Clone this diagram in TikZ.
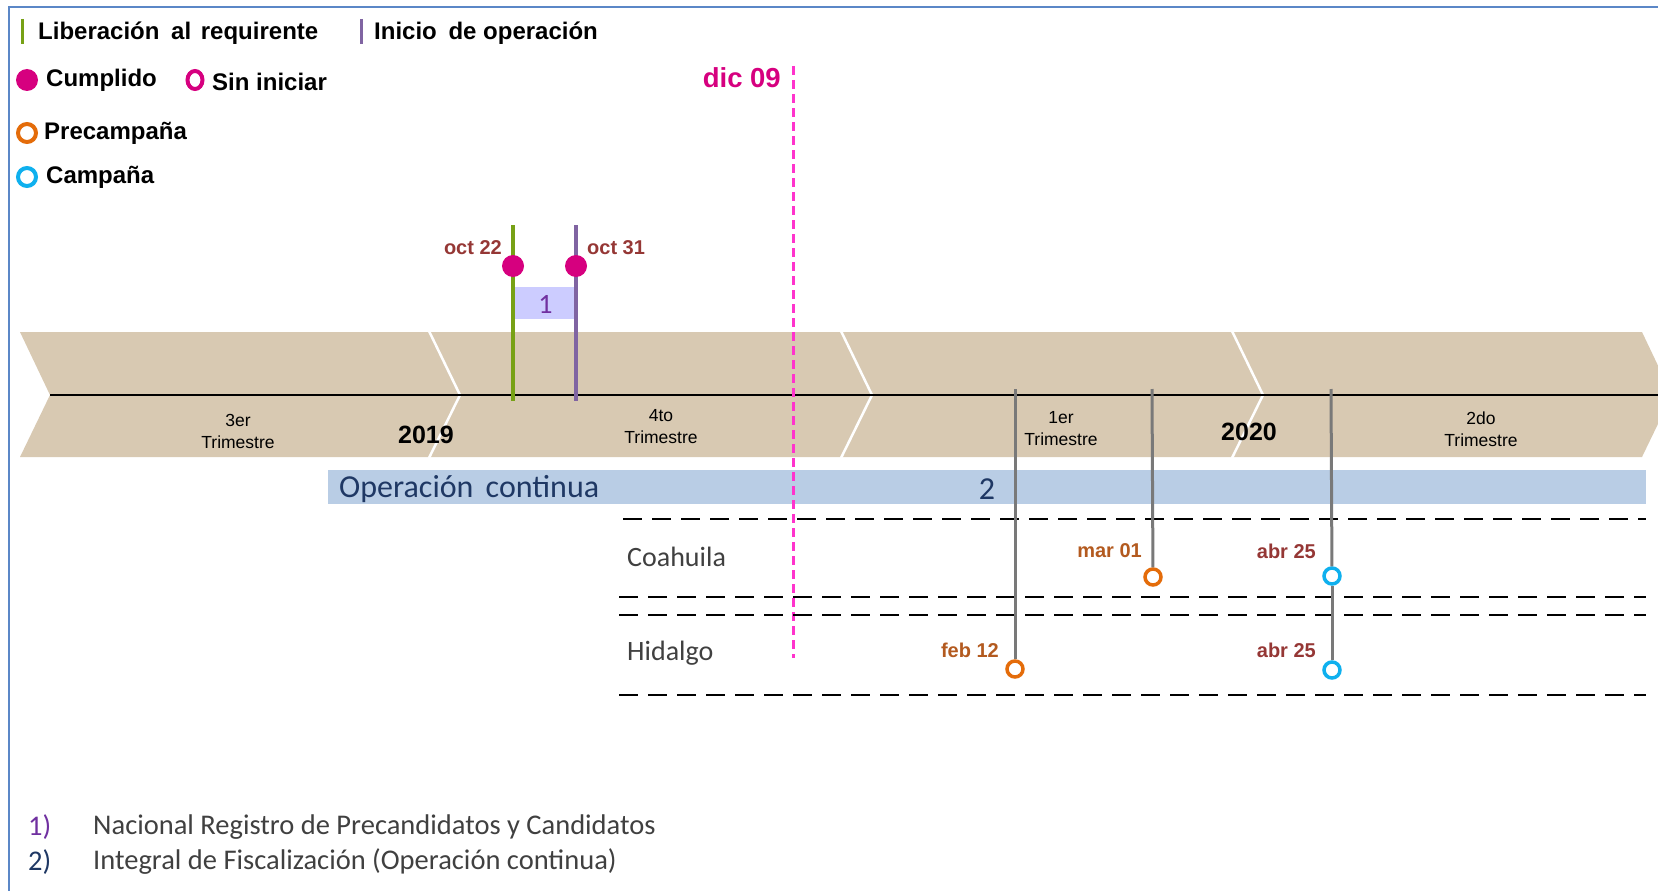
\documentclass[tikz,border=0pt]{standalone}
\usepackage{fontspec}
\usetikzlibrary{shapes.geometric}
\setmainfont{Liberation Sans}
\newfontfamily\calfont{Carlito}
\definecolor{frameblue}{HTML}{5B87C7}
\definecolor{chev}{HTML}{D8C9B2}
\definecolor{lgreen}{HTML}{77A116}
\definecolor{lpurple}{HTML}{8064A2}
\definecolor{mag}{HTML}{D6007F}
\definecolor{pinkd}{HTML}{FF33CC}
\definecolor{datered}{HTML}{953735}
\definecolor{dateorg}{HTML}{B35A1F}
\definecolor{orangec}{HTML}{E46C0A}
\definecolor{cyanc}{HTML}{0FB0EE}
\definecolor{opbar}{HTML}{B9CDE5}
\definecolor{navy}{HTML}{1F3864}
\definecolor{lav}{HTML}{CCCCFF}
\definecolor{purp}{HTML}{7030A0}
\definecolor{dgray}{HTML}{404040}
\tikzset{
  legtxt/.style={inner sep=0, anchor=west, font=\bfseries\fontsize{24}{28}\selectfont},
  datelbl/.style={inner sep=0, font=\bfseries\fontsize{20}{24}\selectfont},
  qlabel/.style={inner sep=0, align=center, font=\fontsize{17.5}{22}\selectfont},
  yearlbl/.style={inner sep=0, font=\bfseries\fontsize{25}{28}\selectfont},
  caltxt/.style={inner sep=0, anchor=west, font=\calfont\fontsize{28}{32}\selectfont},
  foottxt/.style={inner sep=0, anchor=west, font=\calfont\fontsize{28.5}{32}\selectfont},
  filldot/.style={circle, fill=mag, minimum size=22pt, inner sep=0},
  opendot/.style={circle, draw=#1, line width=3.5pt, fill=white, minimum size=16pt, inner sep=0},
  rowline/.style={black, line width=2.5pt, dash pattern=on 19pt off 10pt},
  graystem/.style={draw=gray!95!black, line width=3pt},
}
\begin{document}
\begin{tikzpicture}[x=1pt, y=-1pt]
\useasboundingbox (0,0) rectangle (1658,891);
% frame
\draw[frameblue, line width=2pt] (9,891) -- (9,7) -- (1658,7);

% legend
\draw[lgreen, line width=3pt] (22,19) -- (22,44);
\node[legtxt] (lib) at (38,33) {Liberación\hspace{5pt} al\hspace{3pt} requirente};
\draw[lpurple, line width=3pt] (361,19) -- (361,44);
\node[legtxt] (ini) at (374,33) {Inicio\hspace{5pt} de operación};
\node[filldot] (lc) at (27,80) {};
\node[legtxt] (cum) at (46,80) {Cumplido};
\node[opendot=mag, ellipse, minimum width=15pt, minimum height=18pt, line width=4pt] (ls) at (195,80) {};
\node[legtxt] (sin) at (212,82) {Sin iniciar};
\node[opendot=orangec, minimum size=18pt, line width=4pt] (lp) at (27,133) {};
\node[legtxt] (pre) at (44,133) {Precampaña};
\node[opendot=cyanc, minimum size=18pt, line width=4pt] (lcam) at (27,177) {};
\node[legtxt] (cam) at (46,177) {Campaña};

% chevrons
\fill[chev] (20,332) -- (1642,332) -- (1672,395) -- (1642,457) -- (20,457) -- (50,395) -- cycle;
\foreach \bx in {429,841,1232} {
  \draw[white, line width=2.5pt] (\bx,331) -- (\bx+31,395) -- (\bx,458);
}
\draw[black, line width=2pt] (50,395) -- (1658,395);

% quarter labels
\node[qlabel] (q3) at (238,431) {3er\\Trimestre};
\node[qlabel] (q4) at (661,427) {4to\\Trimestre};
\node[qlabel] (q1) at (1061,429) {1er\\Trimestre};
\node[qlabel] (q2) at (1481,429) {2do\\Trimestre};
\node[yearlbl] (y19) at (426,435) {2019};
\node[yearlbl] (y20) at (1249,432) {2020};

% system 1
\node[fill=lav, minimum width=61pt, minimum height=32pt, inner sep=0] (box1) at (545.5,303) {};
\node[inner sep=0, text=purp, font=\calfont\fontsize{28}{32}\selectfont] (n1) at (545.5,304) {1};
\coordinate (gtop) at (513,225);
\coordinate (gbot) at (513,401);
\coordinate (ptop) at (576,225);
\coordinate (pbot) at (576,401);
\draw[lgreen, line width=3.5pt] (gtop) -- (gbot);
\draw[lpurple, line width=3.5pt] (ptop) -- (pbot);
\node[filldot] (d22) at (513,266) {};
\node[filldot] (d31) at (576,266) {};
\node[datelbl, text=datered, anchor=east] (t22) at (502,248) {oct 22};
\node[datelbl, text=datered, anchor=west] (t31) at (587,248) {oct 31};

% operacion continua
\node[fill=opbar, minimum width=1318pt, minimum height=34pt, inner sep=0, anchor=west] (op) at (328,487) {};
\node[inner sep=0, anchor=west, text=navy, font=\calfont\fontsize{32}{36}\selectfont] (optxt) at (339,489) {Operación\hspace{5pt} continua};
\node[inner sep=0, text=navy, font=\calfont\fontsize{32}{36}\selectfont] (n2) at (987,489) {2};

% dic 09 line
\coordinate (dtop) at (793,66);
\coordinate (dbot) at (793,658);
\draw[pinkd, line width=3pt, dash pattern=on 9pt off 5pt] (dtop) -- (dbot);
\node[datelbl, text=mag, anchor=east, font=\bfseries\fontsize{27.5}{30}\selectfont] (dic) at (781,78) {dic 09};

% rows
\draw[rowline] (623,519) -- (1646,519);
\draw[rowline] (619,597) -- (1646,597);
\draw[rowline] (619,615) -- (1646,615);
\draw[rowline] (619,695) -- (1646,695);
\node[caltxt, text=dgray] (coa) at (627,557) {Coahuila};
\node[caltxt, text=dgray] (hid) at (627,653) {Hidalgo};

% milestones
\coordinate (s1) at (1015,389);
\coordinate (s2) at (1152,389);
\coordinate (s3) at (1331,389);
\node[opendot=orangec] (feb) at (1015,669) {};
\node[opendot=orangec] (mar) at (1153,577) {};
\node[opendot=cyanc] (abrC) at (1332,576) {};
\node[opendot=cyanc] (abrH) at (1332,670) {};
\draw[graystem] (s1) -- (feb);
\draw[graystem] (s2) -- (mar);
\draw[graystem] (s3) -- (abrC);
\draw[graystem] (abrC) -- (abrH);
\node[datelbl, text=dateorg, anchor=east] (tmar) at (1142,551) {mar 01};
\node[datelbl, text=datered, anchor=east] (tabrC) at (1316,551) {abr 25};
\node[datelbl, text=dateorg, anchor=east] (tfeb) at (999,650) {feb 12};
\node[datelbl, text=datered, anchor=east] (tabrH) at (1316,650) {abr 25};

% footnotes
\node[foottxt, text=purp] (f1) at (28,827) {1)};
\node[foottxt, text=dgray] (f1t) at (93,827) {Nacional Registro de Precandidatos y Candidatos};
\node[foottxt, text=navy] (f2) at (28,862) {2)};
\node[foottxt, text=dgray] (f2t) at (93,862) {Integral de Fiscalización (Operación continua)};
\end{tikzpicture}
\end{document}
